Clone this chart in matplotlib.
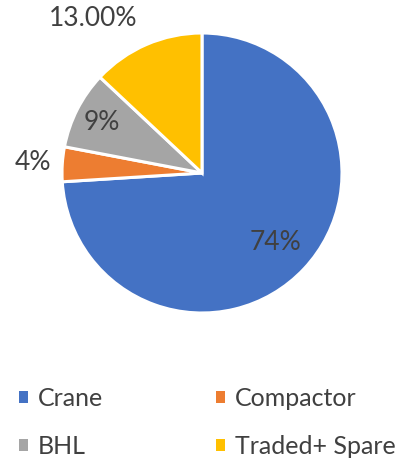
import numpy as np
import matplotlib.pyplot as plt
from matplotlib.patches import Patch

categories = ["Crane", "Compactor", "BHL", "Traded+ Spare"]
shares = [74, 4, 9, 13]
labels = ["74%", "4%", "9%", "13.00%"]
colors = ["#4472C4", "#ED7D31", "#A5A5A5", "#FFC000"]

# where each label sits: radius multiple, optional angle override (deg)
lab_dist = [0.72, 1.21, 0.80, 1.35]
lab_angle = [None, None, None, 125]

plt.rcParams['font.family'] = ['Lato', 'DejaVu Sans']
txt_col = "#404040"

fig = plt.figure(figsize=(4.01, 4.58), dpi=100)
W, H = 401, 458
cx, cy, r = 202, 173, 140
ax = fig.add_axes([(cx - r) / W, (H - cy - r) / H, 2 * r / W, 2 * r / H])

wedges, _ = ax.pie(shares, colors=colors, startangle=90, counterclock=False,
                   radius=1, wedgeprops=dict(edgecolor="white", linewidth=2.2))
ax.set_xlim(-1, 1)
ax.set_ylim(-1, 1)
ax.set_aspect("equal")
ax.axis("off")

for w, lab, d, a in zip(wedges, labels, lab_dist, lab_angle):
    ang = (w.theta1 + w.theta2) / 2 if a is None else a
    t = np.deg2rad(ang)
    ax.text(d * np.cos(t), d * np.sin(t), lab, ha="center", va="center",
            fontsize=19, color=txt_col)

# legend fills column-wise, so reorder to get rows: Crane/Compactor, BHL/Traded
order = [0, 2, 1, 3]
handles = [Patch(facecolor=colors[i], edgecolor="none") for i in order]
fig.legend(handles, [categories[i] for i in order], loc="upper left",
           bbox_to_anchor=(0.047, 0.156), ncol=2, frameon=False, fontsize=18,
           handlelength=0.37, handleheight=0.37, handletextpad=0.4,
           columnspacing=4.5, labelspacing=1.0, borderpad=0, borderaxespad=0,
           labelcolor=txt_col)

fig.savefig("out.png", dpi=100)
